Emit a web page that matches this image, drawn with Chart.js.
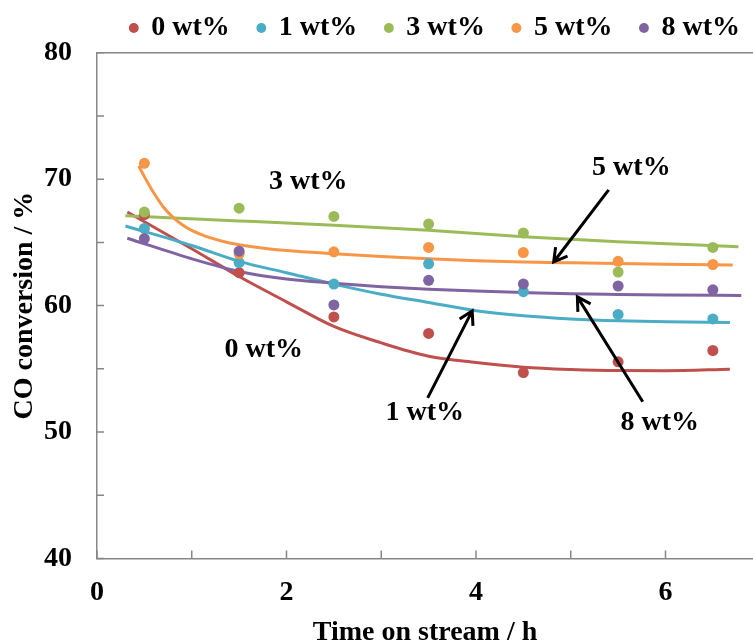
<!DOCTYPE html>
<html>
<head>
<meta charset="utf-8">
<title>CO conversion vs time on stream</title>
<script src="https://cdn.jsdelivr.net/npm/chart.js@4.4.1/dist/chart.umd.min.js"></script>
<style>
  html, body { margin: 0; padding: 0; overflow: hidden; background: #fff; }
  /* the plot runs on past the right edge, so the canvas is a little wider than the page */
  #wrap { position: absolute; left: 0; top: -14px; width: 768px; height: 658px; }
</style>
</head>
<body>
<div id="wrap"><canvas id="coChart"></canvas></div>
<script>
const seriesNames = ["0 wt%", "1 wt%", "3 wt%", "5 wt%", "8 wt%"];
const seriesColors = ["#c0504d", "#4bacc6", "#9bbb59", "#f79646", "#8064a2"];

// time on stream, h
const hours = [0.5, 1.5, 2.5, 3.5, 4.5, 5.5, 6.5];

// measured CO conversion, %
const conv0 = [67.2, 62.6, 59.1, 57.8, 54.7, 55.55, 56.45];
const conv1 = [66.1, 63.4, 61.7, 63.3, 61.1, 59.3, 58.95];
const conv3 = [67.4, 67.7, 67.05, 66.45, 65.75, 62.65, 64.6];
const conv5 = [71.25, 64.1, 64.25, 64.6, 64.2, 63.5, 63.25];
const conv8 = [65.3, 64.3, 60.05, 62.0, 61.7, 61.55, 61.25];

// trend curves through the measurements
const fit0X = [0.32, 1, 1.5, 2, 2.5, 3, 3.5, 4, 4.5, 5, 5.5, 6, 6.68];
const fit0Y = [67.4, 64.5, 62.3, 60.3, 58.35, 57.05, 56.0, 55.5, 55.13, 54.95, 54.86, 54.85, 54.97];
const fit1X = [0.3, 1, 1.5, 2, 2.5, 3, 3.5, 4, 4.5, 5, 5.5, 6, 6.68];
const fit1Y = [66.3, 64.75, 63.5, 62.6, 61.7, 60.9, 60.25, 59.6, 59.2, 58.95, 58.8, 58.72, 58.66];
const fit3X = [0.3, 1.5, 2.5, 3.5, 4.5, 5.5, 6.77];
const fit3Y = [67.1, 66.7, 66.35, 65.95, 65.45, 65.05, 64.66];
const fit5X = [0.44, 0.5, 0.6, 0.7, 0.8, 0.9, 1.0, 1.2, 1.4, 1.6, 1.8, 2.0, 2.5, 3, 3.5, 4, 4.5, 5, 5.5, 6, 6.71];
const fit5Y = [71.05, 70.2, 68.9, 67.8, 67.0, 66.4, 65.95, 65.35, 64.95, 64.7, 64.5, 64.35, 64.1, 63.88, 63.7, 63.55, 63.45, 63.38, 63.32, 63.27, 63.22];
const fit8X = [0.32, 1, 1.5, 2, 2.5, 3, 3.5, 4, 4.5, 5, 5.5, 6, 6.8];
const fit8Y = [65.33, 63.7, 62.7, 62.1, 61.77, 61.5, 61.3, 61.15, 61.03, 60.93, 60.88, 60.84, 60.8];

const xTicks = [0, 1, 2, 3, 4, 5, 6];
const yTicks = [40, 45, 50, 55, 60, 65, 70, 75, 80];

const axisColor = "#878787";
const boldFont = { family: "'Liberation Serif', 'Times New Roman', serif", size: 28, weight: "bold" };

// labels and arrows inside the plot, in data units
const notes = [
  { text: "3 wt%", x: 2.23, y: 69.78 },
  { text: "0 wt%", x: 1.76, y: 56.5 },
  { text: "1 wt%", x: 3.46, y: 51.52 },
  { text: "5 wt%", x: 5.64, y: 70.93 },
  { text: "8 wt%", x: 5.94, y: 50.77 }
];
const arrows = [
  { from: [5.40, 69.15], to: [4.82, 63.45] },
  { from: [3.49, 52.7], to: [3.96, 59.58] },
  { from: [5.76, 52.39], to: [5.07, 60.69] }
];

const pointSeries = [conv0, conv1, conv3, conv5, conv8];
const fitXs = [fit0X, fit1X, fit3X, fit5X, fit8X];
const fitYs = [fit0Y, fit1Y, fit3Y, fit5Y, fit8Y];

const datasets = [];
seriesNames.forEach((name, i) => {
  datasets.push({
    label: name,
    data: hours.map((h, k) => ({ x: h, y: pointSeries[i][k] })),
    backgroundColor: seriesColors[i],
    borderColor: seriesColors[i],
    borderWidth: 0,
    pointRadius: 5.5,
    pointHoverRadius: 5.5,
    order: 5 - i
  });
});
seriesNames.forEach((name, i) => {
  datasets.push({
    type: "line",
    label: name + " trend",
    data: fitXs[i].map((x, k) => ({ x: x, y: fitYs[i][k] })),
    borderColor: seriesColors[i],
    borderWidth: 3,
    pointRadius: 0,
    fill: false,
    cubicInterpolationMode: "monotone",
    order: 15 - i
  });
});

function drawArrow(ctx, x0, y0, x1, y1) {
  const a = Math.atan2(y1 - y0, x1 - x0);
  const len = 15, spread = Math.PI / 6;
  ctx.beginPath();
  ctx.moveTo(x0, y0);
  ctx.lineTo(x1, y1);
  ctx.moveTo(x1 - len * Math.cos(a - spread), y1 - len * Math.sin(a - spread));
  ctx.lineTo(x1, y1);
  ctx.lineTo(x1 - len * Math.cos(a + spread), y1 - len * Math.sin(a + spread));
  ctx.stroke();
}

const decor = {
  id: "decor",
  afterDraw(chart) {
    const { ctx, chartArea, scales: { x, y } } = chart;
    ctx.save();

    // tick marks point into the plot
    ctx.strokeStyle = axisColor;
    ctx.lineWidth = 1.5;
    ctx.beginPath();
    yTicks.forEach(v => {
      const py = y.getPixelForValue(v);
      ctx.moveTo(chartArea.left, py);
      ctx.lineTo(chartArea.left + 7, py);
    });
    xTicks.forEach(v => {
      const px = x.getPixelForValue(v);
      ctx.moveTo(px, chartArea.bottom);
      ctx.lineTo(px, chartArea.bottom - 8);
    });
    ctx.stroke();

    // series labels and arrows
    ctx.fillStyle = "#000";
    ctx.font = "bold 28px 'Liberation Serif', 'Times New Roman', serif";
    ctx.textAlign = "center";
    ctx.textBaseline = "middle";
    notes.forEach(n => ctx.fillText(n.text, x.getPixelForValue(n.x), y.getPixelForValue(n.y)));

    ctx.strokeStyle = "#000";
    ctx.lineWidth = 3;
    arrows.forEach(a => drawArrow(ctx,
      x.getPixelForValue(a.from[0]), y.getPixelForValue(a.from[1]),
      x.getPixelForValue(a.to[0]), y.getPixelForValue(a.to[1])));

    // x axis title, centred under the visible part of the plot
    const visibleRight = Math.min(chartArea.right, document.documentElement.clientWidth);
    ctx.textBaseline = "alphabetic";
    ctx.fillText("Time on stream / h", (chartArea.left + visibleRight) / 2, chart.height - 4);
    ctx.restore();
  }
};

new Chart(document.getElementById("coChart"), {
  type: "scatter",
  data: { datasets },
  options: {
    responsive: true,
    maintainAspectRatio: false,
    animation: false,
    events: [],
    layout: { padding: 0, autoPadding: false },
    plugins: {
      tooltip: { enabled: false },
      legend: {
        position: "top",
        align: "end",
        labels: {
          usePointStyle: true,
          pointStyle: "circle",
          boxWidth: 7,
          boxHeight: 7,
          padding: 28,
          color: "#000",
          font: boldFont,
          filter: item => item.datasetIndex < seriesNames.length,
          sort: (a, b) => a.datasetIndex - b.datasetIndex
        }
      }
    },
    scales: {
      x: {
        type: "linear",
        position: "bottom",
        min: 0,
        max: 7.082,
        afterBuildTicks: s => { s.ticks = xTicks.map(v => ({ value: v })); },
        afterFit: s => { s.height = 85.5; },
        grid: { display: false, drawTicks: false },
        border: { display: true, color: axisColor, width: 1.5 },
        ticks: {
          autoSkip: false,
          maxRotation: 0,
          padding: 17,
          color: "#000",
          font: boldFont,
          callback: v => (v % 2 === 0 ? v : "")
        }
      },
      x2: {
        type: "linear",
        position: "top",
        min: 0,
        max: 7.082,
        afterFit: s => { s.height = 0.7; },
        grid: { display: false, drawTicks: false },
        border: { display: true, color: axisColor, width: 1.5 },
        ticks: { display: false }
      },
      y: {
        type: "linear",
        position: "left",
        min: 40,
        max: 80,
        afterBuildTicks: s => { s.ticks = yTicks.map(v => ({ value: v })); },
        afterFit: s => { s.width = 97; },
        grid: { display: false, drawTicks: false },
        border: { display: true, color: axisColor, width: 1.5 },
        title: {
          display: true,
          text: "CO conversion / %",
          color: "#000",
          font: boldFont,
          padding: { top: 8, bottom: 0 }
        },
        ticks: {
          autoSkip: false,
          padding: 25,
          color: "#000",
          font: boldFont,
          callback: v => (v % 10 === 0 ? v : "")
        }
      }
    }
  },
  plugins: [decor]
});
</script>
</body>
</html>
